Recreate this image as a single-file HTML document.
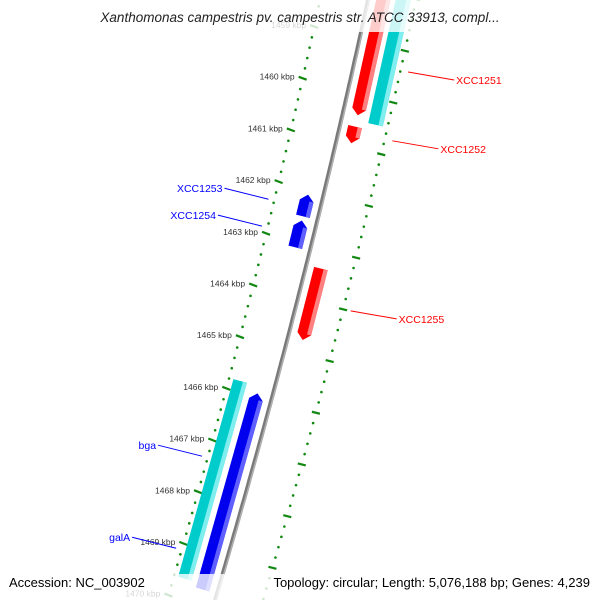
<!DOCTYPE html>
<html><head><meta charset="utf-8"><style>
body{margin:0;background:#fff}
svg{display:block;font-family:"Liberation Sans","DejaVu Sans",sans-serif}
</style></head><body>
<svg id="map" width="600" height="600" viewBox="0 0 600 600" xmlns="http://www.w3.org/2000/svg">
<g id="rings"></g>
<path id="backbone" fill="none" stroke="#7a7a7a" stroke-width="4"/>
<path id="backbone2" fill="none" stroke="#b0b0b0" stroke-width="1.5"/>
<g id="genes"></g>
<g id="labels"></g>
<rect x="0" y="0" width="600" height="32" fill="#fff" opacity="0.8"/>
<rect x="0" y="574" width="600" height="26" fill="#fff" opacity="0.8"/>
<text x="300" y="22" text-anchor="middle" font-size="13.5" font-style="italic" fill="#222">Xanthomonas campestris pv. campestris str. ATCC 33913, compl...</text>
<text x="9" y="587" font-size="13" fill="#000">Accession: NC_003902</text>
<text x="590" y="587" text-anchor="end" font-size="13" fill="#000">Topology: circular; Length: 5,076,188 bp; Genes: 4,239</text>
</svg>
<script>
const majorTicks=[1459,1460,1461,1462,1463,1464,1465,1466,1467,1468,1469,1470];
const geneNames=["XCC1251","XCC1251b","XCC1252","XCC1253","XCC1254","XCC1255","bga-gene","galA-gene"];
const geneStart=[1458.3,1458.3,1460.90,1462.35,1462.85,1463.64,1466.06,1466.20];
const geneEnd=[1460.68,1460.78,1461.22,1462.77,1463.37,1465.02,1469.9,1470.0];
const geneTrack=["fwd","fwdOuter","fwd","rev","rev","fwd","revOuter","rev"];
const labelText=["XCC1251","XCC1252","XCC1253","XCC1254","XCC1255","bga","galA"];
const labelKbp=[1459.91,1461.24,1462.37,1462.89,1464.53,1467.34,1469.12];
const labelSide=["out","out","in","in","out","in","in"];
const labelColor=["red","red","blue","blue","red","blue","blue"];

const NS="http://www.w3.org/2000/svg";
const yOf=k=>25+(k-1459)*51.7;
const bx=y=>368-0.2153*y-6.6e-5*y*y;
const slope=y=>-0.2153-2*6.6e-5*y;
function pt(k,off){const y=yOf(k);const s=slope(y);const n=Math.sqrt(1+s*s);return [bx(y)+off/n,y-off*s/n];}
function hp(k,off,dy){const y=yOf(k)+(dy||0);return [bx(y)+off,y];}
function mk(tag,attrs,parent){const e=document.createElementNS(NS,tag);for(const a in attrs)e.setAttribute(a,attrs[a]);parent.appendChild(e);return e;}

let d="";for(let y=-5;y<=605;y+=5){d+=(y==-5?"M":"L")+bx(y).toFixed(1)+","+y;}
document.getElementById('backbone').setAttribute('d',d);
let d2="";for(let y=-5;y<=605;y+=5){d2+=(y==-5?"M":"L")+(bx(y)+1.2).toFixed(1)+","+y;}
document.getElementById('backbone2').setAttribute('d',d2);

const rings=document.getElementById('rings');
const kMin=1458.4,kMax=1470.4;
for(let i=Math.round(kMin*5);i<=Math.round(kMax*5);i++){
  const k=i/5;
  const isMajor=majorTicks.some(m=>Math.abs(k-m)<1e-6);
  if(isMajor){
    const c0=hp(k,-48,2);const s=slope(c0[1]);
    const t=mk('line',{x1:c0[0]-4,y1:c0[1]+4*s*-1*-1-1,x2:c0[0]+4,y2:c0[1]+1,stroke:'#118811','stroke-width':2.2},rings);
    
    const l=mk('text',{x:c0[0]-8,y:c0[1]+1,'text-anchor':'end','font-size':8.5,fill:'#333'},rings);
    
    l.textContent=k+" kbp";
  } else {
    const p=hp(k,-48,2);
    const c=mk('circle',{cx:p[0],cy:p[1],r:1.3,fill:'#118811'},rings);
    
  }
  const ko=k+0.1;
  const isHalf=Math.abs((ko*2)-Math.round(ko*2))<1e-6 && !(Math.abs(ko-Math.round(ko))<1e-6);
  const po=hp(ko,48,0);
  if(isHalf){
    const t=mk('line',{x1:po[0]-4,y1:po[1]-1,x2:po[0]+4,y2:po[1]+1,stroke:'#118811','stroke-width':2.2},rings);
    
  } else {
    const c=mk('circle',{cx:po[0],cy:po[1],r:1.3,fill:'#118811'},rings);
    
  }
}

const genes=document.getElementById('genes');
const trk={fwd:[8,22,'#ff0000','#ff8080',1],fwdOuter:[27,42,'#00cccc','#80eeee',0],rev:[-22,-8,'#0000ee','#6060ff',-1],revOuter:[-42,-28,'#00cccc','#80eeee',0]};
geneNames.forEach((n,i)=>{
  const [o1,o2,col,light,dir]=trk[geneTrack[i]];
  const s=geneStart[i],e=geneEnd[i];
  const ah=0.12;
  let pts=[];
  if(dir===1){pts=[pt(s,o1),pt(s,o2),pt(e-ah,o2),pt(e,(o1+o2)/2),pt(e-ah,o1)];}
  else if(dir===-1){pts=[pt(e,o1),pt(e,o2),pt(s+ah,o2),pt(s,(o1+o2)/2),pt(s+ah,o1)];}
  else {pts=[pt(s,o1),pt(s,o2),pt(e,o2),pt(e,o1)];}
  const g=mk('polygon',{points:pts.map(p=>p.join(',')).join(' '),fill:col},genes);
  
  const w=o2-o1;
  const hl=mk('polygon',{points:[pt(s+(dir===-1?ah:0),o2-w*0.3),pt(s+(dir===-1?ah:0),o2),pt(e-(dir===1?ah:0),o2),pt(e-(dir===1?ah:0),o2-w*0.3)].map(p=>p.join(',')).join(' '),fill:light},genes);
  
});

const labels=document.getElementById('labels');
labelText.forEach((t,i)=>{
  const k=labelKbp[i];
  let a,tx,ty,anchor;
  if(labelSide[i]==="out"){a=hp(k,56,0);tx=a[0]+48;ty=a[1]+8;anchor='start';}
  else{a=hp(k,-54,0);tx=a[0]-46;ty=a[1]-11;anchor='end';}
  const ln=mk('line',{x1:a[0],y1:a[1],x2:tx+(anchor==='start'?-2:2),y2:ty,stroke:labelColor[i],'stroke-width':1},labels);
  
  const tt=mk('text',{x:tx,y:ty+4,'text-anchor':anchor,'font-size':10.5,fill:labelColor[i]},labels);
  
  tt.textContent=t;
});
</script>
</body></html>
